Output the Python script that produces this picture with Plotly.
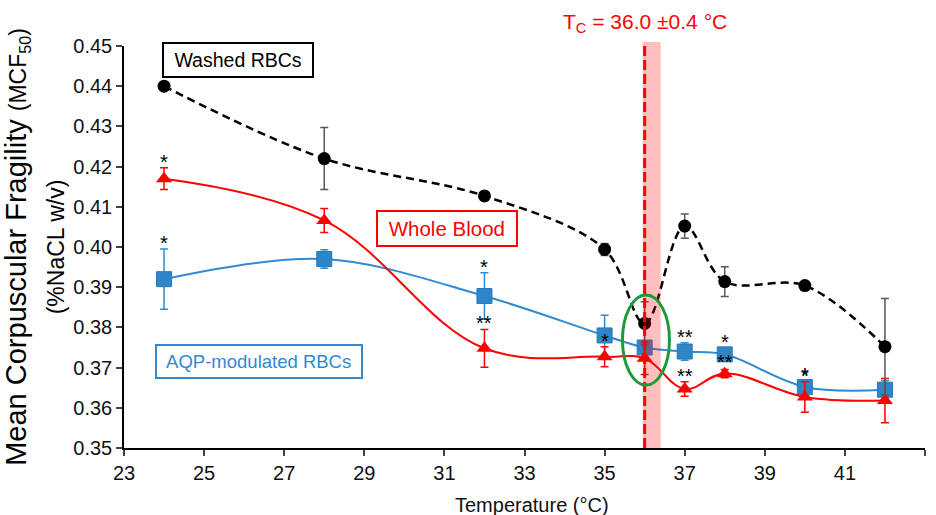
import plotly.graph_objects as go

# ---- data ----
temps = [24, 28, 32, 35, 36, 37, 38, 40, 42]
washed = [0.4400, 0.4220, 0.4127, 0.3994, 0.3810, 0.4052, 0.3914, 0.3904, 0.3752]
washed_err = [0.0, 0.0077, 0.0005, 0.0015, 0.0054, 0.0030, 0.0037, 0.0010, 0.0120]
whole = [0.4170, 0.4066, 0.3748, 0.3727, 0.3723, 0.3647, 0.3685, 0.3627, 0.3618]
whole_err = [0.0027, 0.0030, 0.0047, 0.0025, 0.0040, 0.0018, 0.0010, 0.0038, 0.0055]
aqp = [0.3920, 0.3970, 0.3878, 0.3780, 0.3750, 0.3740, 0.3733, 0.3652, 0.3645]
aqp_err = [0.0075, 0.0023, 0.0058, 0.0050, 0.0010, 0.0022, 0.0010, 0.0010, 0.0022]
whole_sig = ["*", "", "**", "*", "", "**", "**", "*", ""]
aqp_sig = ["*", "", "*", "", "", "**", "*", "*", ""]
x_ticks = [23, 25, 27, 29, 31, 33, 35, 37, 39, 41, 43]
y_ticks = [0.35, 0.36, 0.37, 0.38, 0.39, 0.40, 0.41, 0.42, 0.43, 0.44, 0.45]
tc, tc_lo, tc_hi = 36.0, 35.95, 36.4

FONT = "Arial, Liberation Sans, sans-serif"
BLUE = "#2F8AD2"
RED = "#FF0000"

fig = go.Figure()

fig.add_trace(go.Scatter(
    x=temps, y=aqp, mode="lines+markers", line=dict(color=BLUE, width=2, shape="spline", smoothing=1),
    marker=dict(symbol="square", size=15, color="#2E86C8", line=dict(color="#2A78B8", width=1)),
    error_y=dict(type="data", array=aqp_err, visible=True, color=BLUE, thickness=1.5, width=4),
    showlegend=False))
fig.add_trace(go.Scatter(
    x=temps, y=whole, mode="lines+markers", line=dict(color=RED, width=2, shape="spline", smoothing=1.1),
    marker=dict(symbol="triangle-up", size=14, color=RED),
    error_y=dict(type="data", array=whole_err, visible=True, color=RED, thickness=1.5, width=4),
    showlegend=False))
fig.add_trace(go.Scatter(
    x=temps, y=washed, mode="lines+markers",
    line=dict(color="black", width=2.5, dash="8px,5px", shape="spline", smoothing=1),
    marker=dict(symbol="circle", size=13, color="black"),
    error_y=dict(type="data", array=washed_err, visible=True, color="#595959", thickness=1.5, width=4),
    showlegend=False))

# significance marks
half_marker = 0.0015
for vals, errs, sigs in [(whole, whole_err, whole_sig), (aqp, aqp_err, aqp_sig)]:
    for t, v, e, s in zip(temps, vals, errs, sigs):
        if s:
            fig.add_annotation(x=t, y=max(v + e, v + half_marker), text=s, showarrow=False,
                               xanchor="center", yanchor="middle", yshift=6,
                               font=dict(family=FONT, size=20, color="black"))

# Tc band and dashed line
fig.add_shape(type="rect", xref="x", yref="paper", x0=tc_lo, x1=tc_hi, y0=0, y1=1.01,
              fillcolor="rgba(255,0,0,0.25)", line=dict(width=0), layer="above")
fig.add_shape(type="line", xref="x", yref="paper", x0=tc, x1=tc, y0=0, y1=1.0,
              line=dict(color=RED, width=3, dash="10px,4px"), layer="above")
# green ellipse
fig.add_shape(type="circle", xref="paper", yref="paper", x0=0.6223, x1=0.681, y0=0.1567, y1=0.3806,
              line=dict(color="#1E9A3C", width=3), layer="above")

fig.add_annotation(x=tc, xref="x", y=(448 - 23) / 402, yref="paper", xanchor="center", yanchor="middle",
                   showarrow=False, text="T<sub>C</sub> = 36.0 ±0.4 °C",
                   font=dict(family=FONT, size=21, color=RED))

# series label boxes
fig.add_annotation(xref="paper", yref="paper", x=0.1419, y=0.966, xanchor="center", yanchor="middle",
                   showarrow=False, text=" Washed RBCs ", font=dict(family=FONT, size=19.5, color="black"),
                   bordercolor="black", borderwidth=2, borderpad=5, bgcolor="white")
fig.add_annotation(xref="paper", yref="paper", x=0.4038, y=0.5465, xanchor="center", yanchor="middle",
                   showarrow=False, text=" Whole Blood ", font=dict(family=FONT, size=20.5, color=RED),
                   bordercolor=RED, borderwidth=2, borderpad=5, bgcolor="white")
fig.add_annotation(xref="paper", yref="paper", x=0.1687, y=0.2152, xanchor="center", yanchor="middle",
                   showarrow=False, text=" AQP-modulated RBCs ", font=dict(family=FONT, size=18.5, color=BLUE),
                   bordercolor=BLUE, borderwidth=2, borderpad=5, bgcolor="white")

# x-axis title
fig.add_annotation(xref="paper", yref="paper", x=(532 - 124) / 801, y=(448 - 505) / 402, showarrow=False,
                   xanchor="center", yanchor="middle", text="Temperature (°C)",
                   font=dict(family=FONT, size=20, color="#111"))

fig.update_layout(
    width=936, height=515, margin=dict(l=124, r=11, t=46, b=67, autoexpand=False),
    paper_bgcolor="white", plot_bgcolor="white",
    font=dict(family=FONT, color="black"),
    xaxis=dict(range=[23, 43], tickvals=x_ticks, ticks="outside", ticklen=6, tickwidth=1.5,
               showline=True, linecolor="black", linewidth=1.5, showgrid=False, zeroline=False,
               automargin=False, tickfont=dict(size=20, color="#111")),
    yaxis=dict(range=[0.35, 0.45], tickvals=y_ticks, tickformat=".2f", ticks="outside", ticklen=6,
               tickwidth=1.5, showline=True, linecolor="black", linewidth=1.5, showgrid=False,
               zeroline=False, automargin=False, tickfont=dict(size=20, color="#111"),
               title=dict(text="Mean Corpuscular Fragility <span style='font-size:23px'>(MCF<sub>50</sub>)</span>"
                               "<br><span style='font-size:23px'>(%NaCL w/v)</span>",
                          font=dict(family=FONT, size=29, color="black"), standoff=4)),
)

fig.write_html("out.html")
